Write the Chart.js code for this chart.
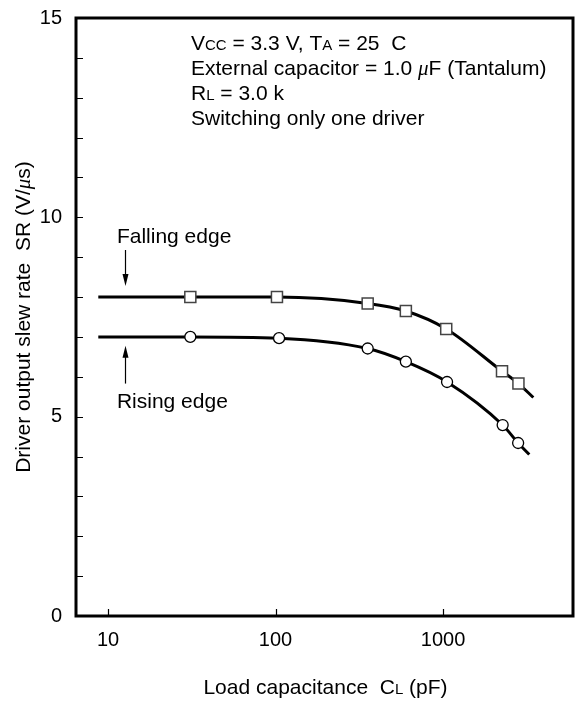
<!DOCTYPE html>
<html lang="en">
    <head>
        <meta charset="UTF-8" />
        <title>Driver output slew rate vs load capacitance</title>
        <script src="https://cdn.jsdelivr.net/npm/chart.js"></script>
        <style>
            body {
                margin: 0;
                background: #fff;
            }
            .chart-container {
                width: 580px;
                height: 701px;
            }
        </style>
    </head>
    <body>
        <div class="chart-container">
            <canvas id="srChart" width="580" height="701"></canvas>
        </div>

        <script>
            // Load capacitance (pF) and slew rate (V/us).
            // First and last entries are the curve ends (no marker).
            const fallingX = [8.75, 31, 102, 355, 600, 1045, 2250, 2820, 3460];
            const fallingY = [8.0, 8.0, 8.0, 7.84, 7.65, 7.2, 6.14, 5.83, 5.48];
            const risingX = [8.75, 31, 105, 355, 600, 1057, 2270, 2808, 3273];
            const risingY = [7.0, 7.0, 6.97, 6.71, 6.38, 5.87, 4.79, 4.34, 4.05];

            const xTicks = [10, 100, 1000];
            const yLabelTicks = [0, 5, 10, 15];
            const yMinorTicks = [1, 2, 3, 4, 5, 6, 7, 8, 9, 10, 11, 12, 13, 14];

            const FONT = 'Arial, "Liberation Sans", sans-serif';
            const TEXT_SIZE = 21;

            function toPoints(xs, ys) {
                return xs.map((x, i) => ({ x: x, y: ys[i] }));
            }

            function markerRadius(xs, r) {
                return xs.map((_, i) => (i === 0 || i === xs.length - 1 ? 0 : r));
            }

            function setRunFont(ctx, r, size) {
                if (r.mu) {
                    ctx.font = `italic ${size}px "Liberation Serif", serif`;
                } else {
                    ctx.font = `${r.sub ? Math.round(size * 0.7) : size}px ${FONT}`;
                }
            }

            // draw a line of text made of runs (smaller subscripts, italic mu)
            function drawRuns(ctx, x, y, runs, size) {
                ctx.textAlign = "left";
                ctx.textBaseline = "alphabetic";
                let cx = x;
                runs.forEach((r) => {
                    setRunFont(ctx, r, size);
                    ctx.fillText(r.t, cx, y);
                    cx += ctx.measureText(r.t).width;
                });
                return cx - x;
            }

            function measureRuns(ctx, runs, size) {
                let w = 0;
                runs.forEach((r) => {
                    setRunFont(ctx, r, size);
                    w += ctx.measureText(r.t).width;
                });
                return w;
            }

            function arrow(ctx, x, y1, y2) {
                // shaft from y1 to the tip at y2
                const dir = y2 > y1 ? 1 : -1;
                ctx.beginPath();
                ctx.moveTo(x, y1);
                ctx.lineTo(x, y2 - dir * 9);
                ctx.stroke();
                ctx.beginPath();
                ctx.moveTo(x, y2);
                ctx.lineTo(x - 3, y2 - dir * 12);
                ctx.lineTo(x + 3, y2 - dir * 12);
                ctx.closePath();
                ctx.fill();
            }

            const decorations = {
                id: "decorations",
                afterDraw(chart) {
                    const { ctx, chartArea: a, scales } = chart;
                    const xs = scales.x;
                    const ys = scales.y;
                    ctx.save();
                    ctx.fillStyle = "#000";
                    ctx.strokeStyle = "#000";

                    // inward ticks
                    ctx.lineWidth = 1.2;
                    ctx.beginPath();
                    yMinorTicks.forEach((v) => {
                        const py = Math.round(ys.getPixelForValue(v)) + 0.5;
                        ctx.moveTo(a.left, py);
                        ctx.lineTo(a.left + 7, py);
                    });
                    xTicks.forEach((v) => {
                        const px = Math.round(xs.getPixelForValue(v)) + 0.5;
                        ctx.moveTo(px, a.bottom);
                        ctx.lineTo(px, a.bottom - 7);
                    });
                    ctx.stroke();

                    // frame
                    ctx.lineWidth = 3;
                    ctx.strokeRect(a.left, a.top, a.right - a.left, a.bottom - a.top);

                    // condition block
                    const size = TEXT_SIZE;
                    const bx = a.left + 115;
                    drawRuns(ctx, bx, a.top + 32, [
                        { t: "V" },
                        { t: "CC", sub: true },
                        { t: " = 3.3 V, T" },
                        { t: "A", sub: true },
                        { t: " = 25  C" },
                    ], size);
                    drawRuns(ctx, bx, a.top + 57, [
                        { t: "External capacitor = 1.0 " },
                        { t: "\u03bc", mu: true },
                        { t: "F (Tantalum)" },
                    ], size);
                    drawRuns(ctx, bx, a.top + 82, [{ t: "R" }, { t: "L", sub: true }, { t: " = 3.0 k" }], size);
                    drawRuns(ctx, bx, a.top + 107, [{ t: "Switching only one driver" }], size);

                    // edge labels and arrows
                    const lx = xs.getPixelForValue(11.3);
                    const ax = Math.round(xs.getPixelForValue(12.6)) + 0.5;
                    drawRuns(ctx, lx, ys.getPixelForValue(9.53) + 7, [{ t: "Falling edge" }], size);
                    drawRuns(ctx, lx, ys.getPixelForValue(5.4) + 7, [{ t: "Rising edge" }], size);
                    ctx.lineWidth = 1.2;
                    arrow(ctx, ax, ys.getPixelForValue(9.18), ys.getPixelForValue(8.28));
                    arrow(ctx, ax, ys.getPixelForValue(5.83), ys.getPixelForValue(6.78));

                    // x axis title
                    const xRuns = [{ t: "Load capacitance  C" }, { t: "L", sub: true }, { t: " (pF)" }];
                    const xw = measureRuns(ctx, xRuns, size);
                    drawRuns(ctx, (a.left + a.right) / 2 - xw / 2 + 1, 694, xRuns, size);

                    // y axis title
                    const yRuns = [{ t: "Driver output slew rate  SR (V/" }, { t: "\u03bc", mu: true }, { t: "s)" }];
                    const yw = measureRuns(ctx, yRuns, size);
                    ctx.translate(30, (a.top + a.bottom) / 2);
                    ctx.rotate(-Math.PI / 2);
                    drawRuns(ctx, -yw / 2, 0, yRuns, size);

                    ctx.restore();
                },
            };

            new Chart(document.getElementById("srChart"), {
                type: "line",
                data: {
                    datasets: [
                        {
                            label: "Falling edge",
                            data: toPoints(fallingX, fallingY),
                            borderColor: "#000",
                            borderWidth: 3,
                            cubicInterpolationMode: "monotone",
                            pointStyle: "rect",
                            pointRadius: markerRadius(fallingX, 7.8),
                            pointBackgroundColor: "#fff",
                            pointBorderColor: "#444",
                            pointBorderWidth: 1.5,
                        },
                        {
                            label: "Rising edge",
                            data: toPoints(risingX, risingY),
                            borderColor: "#000",
                            borderWidth: 3,
                            cubicInterpolationMode: "monotone",
                            pointStyle: "circle",
                            pointRadius: markerRadius(risingX, 5.5),
                            pointBackgroundColor: "#fff",
                            pointBorderColor: "#000",
                            pointBorderWidth: 1.3,
                        },
                    ],
                },
                options: {
                    responsive: false,
                    animation: false,
                    layout: {
                        padding: { left: 0, right: 7, top: 17, bottom: 0 },
                    },
                    plugins: {
                        legend: { display: false },
                        tooltip: { enabled: false },
                    },
                    scales: {
                        x: {
                            type: "logarithmic",
                            min: 6.44,
                            max: 5970,
                            grid: { display: false },
                            border: { display: false },
                            afterBuildTicks: (s) => {
                                s.ticks = xTicks.map((v) => ({ value: v }));
                            },
                            afterFit: (s) => {
                                s.height = 85;
                            },
                            ticks: {
                                autoSkip: false,
                                maxRotation: 0,
                                padding: 4,
                                color: "#000",
                                font: { family: FONT, size: 20 },
                                callback: (v) => String(v),
                            },
                        },
                        y: {
                            min: 0,
                            max: 15,
                            grid: { display: false },
                            border: { display: false },
                            afterBuildTicks: (s) => {
                                s.ticks = yLabelTicks.map((v) => ({ value: v }));
                            },
                            afterFit: (s) => {
                                s.width = 76;
                            },
                            ticks: {
                                padding: 6,
                                color: "#000",
                                font: { family: FONT, size: 20 },
                            },
                        },
                    },
                },
                plugins: [decorations],
            });
        </script>
    </body>
</html>
